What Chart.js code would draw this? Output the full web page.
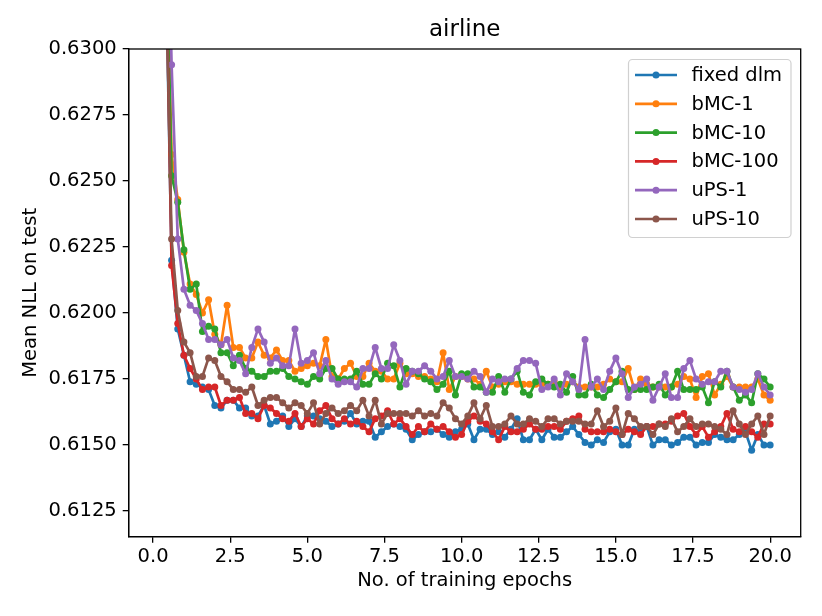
<!DOCTYPE html>
<html>
<head>
<meta charset="utf-8">
<script src="https://cdn.jsdelivr.net/npm/chart.js@4.4.1/dist/chart.umd.min.js"></script>
<style>
  body { margin: 0; background: #fff; }
  canvas { display: block; }
</style>
</head>
<body>
<canvas id="myChart" width="822" height="616"></canvas>
<script>
// epochs (x values)
const epochs = [0.2,0.4,0.6,0.8,1.0,1.2,1.4,1.6,1.8,2.0,
  2.2,2.4,2.6,2.8,3.0,3.2,3.4,3.6,3.8,4.0,
  4.2,4.4,4.6,4.8,5.0,5.2,5.4,5.6,5.8,6.0,
  6.2,6.4,6.6,6.8,7.0,7.2,7.4,7.6,7.8,8.0,
  8.2,8.4,8.6,8.8,9.0,9.2,9.4,9.6,9.8,10.0,
  10.2,10.4,10.6,10.8,11.0,11.2,11.4,11.6,11.8,12.0,
  12.2,12.4,12.6,12.8,13.0,13.2,13.4,13.6,13.8,14.0,
  14.2,14.4,14.6,14.8,15.0,15.2,15.4,15.6,15.8,16.0,
  16.2,16.4,16.6,16.8,17.0,17.2,17.4,17.6,17.8,18.0,
  18.2,18.4,18.6,18.8,19.0,19.2,19.4,19.6,19.8,20.0];

const fixedDlm = [0.6400,0.6340,0.6220,0.6194,0.6184,0.6174,0.6173,0.6172,0.6171,0.6165,
  0.6164,0.6167,0.6167,0.6164,0.6164,0.6161,0.6161,0.6165,0.6158,0.6159,
  0.6161,0.6157,0.6160,0.6157,0.6161,0.6161,0.6160,0.6159,0.6157,0.6158,
  0.6159,0.6162,0.6158,0.6159,0.6159,0.6153,0.6155,0.6157,0.6158,0.6157,
  0.6156,0.6152,0.6154,0.6155,0.6155,0.6156,0.6154,0.6153,0.6155,0.6156,
  0.6158,0.6152,0.6156,0.6156,0.6154,0.6155,0.6153,0.6156,0.6160,0.6152,
  0.6152,0.6156,0.6152,0.6156,0.6153,0.6153,0.6155,0.6157,0.6154,0.6151,
  0.6150,0.6152,0.6151,0.6155,0.6156,0.6150,0.6150,0.6156,0.6155,0.6157,
  0.6150,0.6152,0.6152,0.6150,0.6151,0.6153,0.6153,0.6150,0.6151,0.6151,
  0.6154,0.6153,0.6152,0.6152,0.6154,0.6155,0.6148,0.6154,0.6150,0.6150];

const bmc1 = [0.6450,0.6360,0.6260,0.6243,0.6223,0.6211,0.6207,0.6200,0.6205,0.6192,
  0.6188,0.6203,0.6187,0.6187,0.6183,0.6183,0.6189,0.6184,0.6183,0.6186,
  0.6182,0.6182,0.6178,0.6179,0.6180,0.6181,0.6180,0.6190,0.6176,0.6175,
  0.6179,0.6181,0.6176,0.6176,0.6181,0.6178,0.6178,0.6175,0.6175,0.6181,
  0.6177,0.6177,0.6176,0.6176,0.6175,0.6174,0.6185,0.6171,0.6176,0.6176,
  0.6175,0.6175,0.6173,0.6178,0.6172,0.6173,0.6174,0.6174,0.6173,0.6173,
  0.6173,0.6173,0.6173,0.6173,0.6174,0.6172,0.6173,0.6174,0.6172,0.6172,
  0.6172,0.6172,0.6173,0.6175,0.6174,0.6174,0.6179,0.6171,0.6175,0.6173,
  0.6172,0.6172,0.6172,0.6172,0.6173,0.6176,0.6175,0.6168,0.6176,0.6177,
  0.6169,0.6173,0.6176,0.6172,0.6172,0.6172,0.6172,0.6175,0.6169,0.6167];

const bmc10 = [0.6450,0.6360,0.6252,0.6242,0.6224,0.6209,0.6211,0.6193,0.6195,0.6194,
  0.6185,0.6185,0.6180,0.6184,0.6179,0.6178,0.6176,0.6176,0.6178,0.6178,
  0.6179,0.6176,0.6175,0.6174,0.6173,0.6176,0.6175,0.6179,0.6179,0.6175,
  0.6175,0.6175,0.6178,0.6173,0.6173,0.6177,0.6175,0.6181,0.6180,0.6172,
  0.6179,0.6178,0.6177,0.6175,0.6174,0.6171,0.6173,0.6178,0.6169,0.6177,
  0.6177,0.6172,0.6172,0.6170,0.6170,0.6176,0.6170,0.6175,0.6178,0.6170,
  0.6169,0.6174,0.6175,0.6173,0.6172,0.6173,0.6170,0.6176,0.6169,0.6169,
  0.6173,0.6169,0.6168,0.6171,0.6174,0.6178,0.6171,0.6171,0.6171,0.6171,
  0.6172,0.6173,0.6169,0.6172,0.6178,0.6171,0.6171,0.6171,0.6172,0.6166,
  0.6174,0.6172,0.6178,0.6172,0.6167,0.6169,0.6166,0.6177,0.6175,0.6172];

const bmc100 = [0.6420,0.6350,0.6218,0.6196,0.6184,0.6179,0.6175,0.6171,0.6172,0.6172,
  0.6165,0.6167,0.6167,0.6168,0.6162,0.6162,0.6160,0.6165,0.6164,0.6162,
  0.6160,0.6159,0.6162,0.6157,0.6160,0.6158,0.6163,0.6165,0.6160,0.6158,
  0.6160,0.6158,0.6159,0.6157,0.6155,0.6160,0.6161,0.6163,0.6158,0.6160,
  0.6157,0.6154,0.6157,0.6155,0.6158,0.6156,0.6157,0.6155,0.6153,0.6154,
  0.6159,0.6161,0.6159,0.6158,0.6155,0.6152,0.6157,0.6155,0.6155,0.6156,
  0.6158,0.6156,0.6156,0.6157,0.6157,0.6156,0.6159,0.6160,0.6161,0.6156,
  0.6155,0.6155,0.6155,0.6156,0.6155,0.6154,0.6156,0.6155,0.6154,0.6157,
  0.6157,0.6158,0.6158,0.6159,0.6161,0.6162,0.6157,0.6154,0.6157,0.6153,
  0.6155,0.6157,0.6162,0.6156,0.6155,0.6157,0.6155,0.6153,0.6158,0.6158];

const ups1 = [0.6500,0.6400,0.6294,0.6228,0.6209,0.6203,0.6201,0.6196,0.6190,0.6190,
  0.6188,0.6190,0.6183,0.6182,0.6177,0.6187,0.6194,0.6189,0.6181,0.6183,
  0.6180,0.6180,0.6194,0.6181,0.6182,0.6185,0.6177,0.6182,0.6175,0.6173,
  0.6174,0.6174,0.6172,0.6179,0.6179,0.6187,0.6179,0.6179,0.6188,0.6182,
  0.6173,0.6178,0.6178,0.6180,0.6178,0.6175,0.6176,0.6182,0.6176,0.6176,
  0.6175,0.6178,0.6176,0.6170,0.6175,0.6174,0.6175,0.6175,0.6179,0.6182,
  0.6182,0.6181,0.6171,0.6172,0.6175,0.6169,0.6177,0.6174,0.6171,0.6190,
  0.6172,0.6175,0.6171,0.6178,0.6183,0.6177,0.6168,0.6172,0.6173,0.6175,
  0.6167,0.6172,0.6177,0.6168,0.6168,0.6179,0.6182,0.6175,0.6173,0.6174,
  0.6174,0.6178,0.6178,0.6172,0.6171,0.6170,0.6171,0.6177,0.6172,0.6169];

const ups10 = [0.6400,0.6340,0.6228,0.6201,0.6189,0.6185,0.6176,0.6176,0.6183,0.6182,
  0.6176,0.6174,0.6171,0.6171,0.6170,0.6172,0.6165,0.6167,0.6168,0.6168,
  0.6166,0.6164,0.6166,0.6165,0.6162,0.6166,0.6158,0.6162,0.6164,0.6162,
  0.6163,0.6165,0.6163,0.6167,0.6161,0.6167,0.6158,0.6162,0.6162,0.6162,
  0.6162,0.6161,0.6163,0.6161,0.6162,0.6161,0.6166,0.6164,0.6160,0.6158,
  0.6161,0.6166,0.6160,0.6165,0.6157,0.6157,0.6158,0.6161,0.6158,0.6158,
  0.6160,0.6159,0.6157,0.6160,0.6160,0.6158,0.6159,0.6159,0.6159,0.6158,
  0.6158,0.6163,0.6157,0.6159,0.6164,0.6154,0.6162,0.6160,0.6157,0.6157,
  0.6154,0.6158,0.6157,0.6160,0.6155,0.6157,0.6160,0.6157,0.6158,0.6158,
  0.6157,0.6156,0.6154,0.6163,0.6158,0.6154,0.6158,0.6161,0.6154,0.6161];

const seriesNames = ['fixed dlm', 'bMC-1', 'bMC-10', 'bMC-100', 'uPS-1', 'uPS-10'];
const seriesValues = [fixedDlm, bmc1, bmc10, bmc100, ups1, ups10];
const colors = ['#1f77b4', '#ff7f0e', '#2ca02c', '#d62728', '#9467bd', '#8c564b'];

const xTicks = [0, 2.5, 5, 7.5, 10, 12.5, 15, 17.5, 20];
const yTicks = [0.6125, 0.6150, 0.6175, 0.6200, 0.6225, 0.6250, 0.6275, 0.6300];

const FONT = "'DejaVu Sans', sans-serif";

// title, frame and legend like matplotlib
const decorations = {
    id: 'decorations',
    afterDatasetsDraw(chart) {
        const ctx = chart.ctx;
        const a = chart.chartArea;
        ctx.save();
        // frame
        ctx.strokeStyle = '#000';
        ctx.lineWidth = 1.3;
        ctx.strokeRect(a.left, a.top, a.right - a.left, a.bottom - a.top);

        // title
        ctx.fillStyle = '#000';
        ctx.font = "23px " + FONT;
        ctx.textAlign = 'center';
        ctx.textBaseline = 'middle';
        ctx.fillText('airline', (a.left + a.right) / 2, 30);

        // legend
        const bx = 628.5, by = 59.5, bw = 162.5, bh = 178;
        ctx.beginPath();
        ctx.roundRect(bx, by, bw, bh, 4);
        ctx.fillStyle = 'rgba(255,255,255,0.8)';
        ctx.fill();
        ctx.strokeStyle = '#d0d0d0';
        ctx.lineWidth = 1.2;
        ctx.stroke();

        ctx.font = "19.5px " + FONT;
        ctx.textAlign = 'left';
        chart.data.datasets.forEach((ds, i) => {
            const y = 75 + i * 28.8;
            ctx.strokeStyle = ds.borderColor;
            ctx.lineWidth = 2.7;
            ctx.beginPath();
            ctx.moveTo(635, y);
            ctx.lineTo(677, y);
            ctx.stroke();
            ctx.fillStyle = ds.borderColor;
            ctx.beginPath();
            ctx.arc(656, y, 3.5, 0, Math.PI * 2);
            ctx.fill();
            ctx.fillStyle = '#000';
            ctx.fillText(ds.label, 691.5, y + 1);
        });
        ctx.restore();
    }
};

const datasets = seriesNames.map((name, i) => ({
    label: name,
    data: epochs.map((x, j) => ({ x: x, y: seriesValues[i][j] })),
    borderColor: colors[i],
    backgroundColor: colors[i],
    borderWidth: 2.7,
    borderJoinStyle: 'round',
    borderCapStyle: 'round',
    pointRadius: 3.5,
    pointBorderWidth: 0,
    pointBackgroundColor: colors[i],
    tension: 0,
    clip: 0,
    order: -i
}));

const config = {
    type: 'line',
    data: { datasets: datasets },
    options: {
        responsive: false,
        animation: false,
        devicePixelRatio: 1,
        layout: { padding: { left: 0, right: 21.3, top: 49, bottom: 0 } },
        plugins: {
            legend: { display: false },
            tooltip: { enabled: false },
            title: { display: false }
        },
        scales: {
            x: {
                type: 'linear',
                min: -0.79,
                max: 20.99,
                afterBuildTicks: (scale) => { scale.ticks = xTicks.map(v => ({ value: v })); },
                afterFit: (scale) => { scale.height = 79.3; },
                ticks: {
                    color: '#000',
                    font: { family: FONT, size: 19.5 },
                    padding: 3,
                    maxRotation: 0,
                    autoSkip: false,
                    callback: (v) => v.toFixed(1)
                },
                grid: { drawOnChartArea: false, drawTicks: true, tickLength: 6, color: '#000', lineWidth: 1.3 },
                border: { display: true, color: '#000', width: 1.3 },
                title: {
                    display: true,
                    text: 'No. of training epochs',
                    color: '#000',
                    font: { family: FONT, size: 19.5 },
                    padding: { top: 0, bottom: 23 }
                }
            },
            y: {
                type: 'linear',
                min: 0.61153,
                max: 0.6300,
                afterBuildTicks: (scale) => { scale.ticks = yTicks.map(v => ({ value: v })); },
                afterFit: (scale) => { scale.width = 128.7; },
                ticks: {
                    color: '#000',
                    font: { family: FONT, size: 19.5 },
                    padding: 6,
                    autoSkip: false,
                    callback: (v) => v.toFixed(4)
                },
                grid: { drawOnChartArea: false, drawTicks: true, tickLength: 6, color: '#000', lineWidth: 1.3 },
                border: { display: true, color: '#000', width: 1.3 },
                title: {
                    display: true,
                    text: 'Mean NLL on test',
                    color: '#000',
                    font: { family: FONT, size: 19.5 },
                    padding: { top: 19, bottom: 0 }
                }
            }
        }
    },
    plugins: [decorations]
};

const chart = new Chart(document.getElementById('myChart'), config);
</script>
</body>
</html>
